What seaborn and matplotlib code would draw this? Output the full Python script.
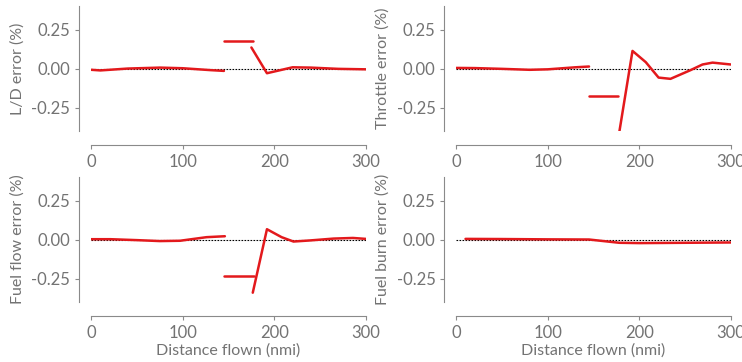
import numpy as np
import pandas as pd
import matplotlib
matplotlib.use("Agg")
import matplotlib.pyplot as plt
import seaborn as sns

# -----------------------------
# Data
# -----------------------------
# L/D error
ld_x1 = [0, 10, 40, 75, 100, 130, 145]
ld_y1 = [-0.008, -0.012, 0.0, 0.006, 0.002, -0.01, -0.015]
ld_x2 = [145, 177]
ld_y2 = [0.175, 0.175]
ld_x3 = [175, 192, 220, 240, 270, 300]
ld_y3 = [0.135, -0.03, 0.008, 0.006, -0.002, -0.005]

# Throttle error
th_x1 = [0, 20, 50, 80, 100, 130, 145]
th_y1 = [0.004, 0.003, -0.002, -0.008, -0.005, 0.008, 0.013]
th_x2 = [145, 177]
th_y2 = [-0.177, -0.177]
th_x3 = [178, 192.5, 207, 221, 234, 256, 269, 280, 300]
th_y3 = [-0.41, 0.113, 0.041, -0.058, -0.066, -0.01, 0.026, 0.038, 0.026]

# Fuel flow error
ff_x1 = [0, 21, 50, 75, 97, 126, 146]
ff_y1 = [0.002, 0.002, -0.004, -0.01, -0.008, 0.015, 0.021]
ff_x2 = [145, 178]
ff_y2 = [-0.231, -0.231]
ff_x3 = [176.5, 192, 208, 221, 239, 265, 286, 300]
ff_y3 = [-0.341, 0.066, 0.015, -0.013, -0.006, 0.006, 0.01, 0.004]

# Fuel burn error
fb_x = [10, 50, 100, 145, 178, 200, 250, 300]
fb_y = [0.004, 0.003, 0.001, 0.0, -0.021, -0.023, -0.021, -0.019]

panels = [
    ("L/D error (%)", [(ld_x1, ld_y1), (ld_x2, ld_y2), (ld_x3, ld_y3)]),
    ("Throttle error (%)", [(th_x1, th_y1), (th_x2, th_y2), (th_x3, th_y3)]),
    ("Fuel flow error (%)", [(ff_x1, ff_y1), (ff_x2, ff_y2), (ff_x3, ff_y3)]),
    ("Fuel burn error (%)", [(fb_x, fb_y)]),
]

# -----------------------------
# Style
# -----------------------------
sns.set_style("ticks")
grey_text = "#737373"
grey_axis = "#8a8a8a"
plt.rcParams["font.family"] = ["Lato", "DejaVu Sans"]
plt.rcParams["font.size"] = 11.5
plt.rcParams["text.color"] = grey_text
plt.rcParams["axes.labelcolor"] = grey_text
plt.rcParams["axes.labelsize"] = 11.5
plt.rcParams["xtick.color"] = grey_axis
plt.rcParams["ytick.color"] = grey_axis
plt.rcParams["xtick.labelcolor"] = grey_text
plt.rcParams["ytick.labelcolor"] = grey_text
plt.rcParams["axes.edgecolor"] = grey_axis
plt.rcParams["xtick.major.size"] = 3
plt.rcParams["ytick.major.size"] = 3
plt.rcParams["xtick.labelsize"] = 12
plt.rcParams["ytick.labelsize"] = 12

red = "#e3191c"

fig, axes = plt.subplots(2, 2, figsize=(7.42, 3.62), dpi=100)
fig.subplots_adjust(left=0.123, right=0.985, bottom=0.166, top=0.983,
                    wspace=0.33, hspace=0.37)

for i, (ax, (label, segs)) in enumerate(zip(axes.flat, panels)):
    ax.plot([0, 300], [0, 0], color="black", lw=0.8, ls=(0, (1.5, 1.2)), zorder=1)
    for sx, sy in segs:
        seg = pd.DataFrame({"x": sx, "y": sy})
        sns.lineplot(data=seg, x="x", y="y", ax=ax, color=red, lw=1.8,
                     sort=False, estimator=None, zorder=3)
    ax.set_xlim(0, 300)
    ax.set_ylim(-0.4, 0.4)
    ax.set_xticks([0, 100, 200, 300])
    ax.set_yticks([-0.25, 0.0, 0.25])
    ax.set_yticklabels(["-0.25", "0.00", "0.25"])
    ax.set_ylabel(label, labelpad=5)
    if i >= 2:
        ax.set_xlabel("Distance flown (nmi)", labelpad=2)
    else:
        ax.set_xlabel("")
    sns.despine(ax=ax)
    ax.spines["left"].set_position(("outward", 8.6))
    ax.spines["bottom"].set_position(("outward", 10))
    ax.spines["left"].set_bounds(-0.4, 0.4)

fig.savefig("out.png", dpi=100)
